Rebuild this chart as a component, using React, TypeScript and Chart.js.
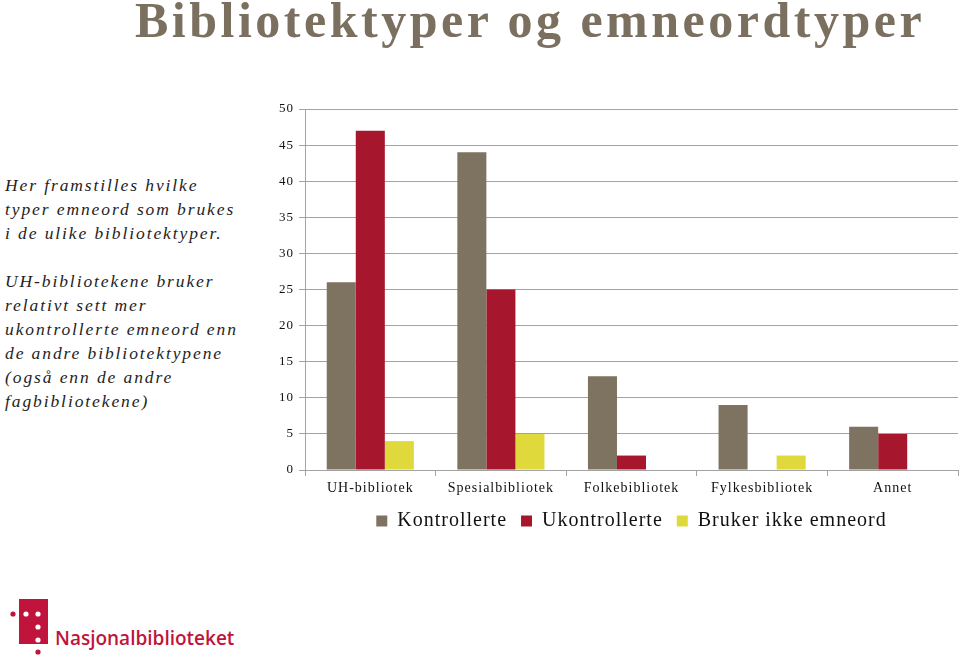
import React, { useEffect, useRef } from "react";
import { Chart, registerables } from "chart.js";

Chart.register(...registerables);

const categories = ["UH-bibliotek", "Spesialbibliotek", "Folkebibliotek", "Fylkesbibliotek", "Annet"];
const kontrollerte = [26, 44, 13, 9, 6];
const ukontrollerte = [47, 25, 2, 0, 5];
const brukerIkkeEmneord = [4, 5, 0, 2, 0];
const seriesNames = ["Kontrollerte", "Ukontrollerte", "Bruker ikke emneord"];
const seriesColors = ["#7e7261", "#a6162c", "#dfd93b"];
const yMin = 0;
const yMax = 50;
const yStep = 5;

const titleText = "Bibliotektyper og emneordtyper";
const paragraph1 = ["Her framstilles hvilke", "typer emneord som brukes", "i de ulike bibliotektyper."];
const paragraph2 = [
  "UH-bibliotekene bruker",
  "relativt sett mer",
  "ukontrollerte emneord enn",
  "de andre bibliotektypene",
  "(også enn de andre",
  "fagbibliotekene)",
];
const logoText = "Nasjonalbiblioteket";

const SERIF = "'Liberation Serif', 'Times New Roman', serif";

const letterSpacingPlugin = {
  id: "letterSpacing",
  beforeUpdate(chart: any) {
    chart.ctx.letterSpacing = "1px";
  },
  beforeDraw(chart: any) {
    chart.ctx.letterSpacing = "1px";
  },
};

function BarChart() {
  const ref = useRef<HTMLCanvasElement | null>(null);
  useEffect(() => {
    if (!ref.current) return;
    const seriesData = [kontrollerte, ukontrollerte, brukerIkkeEmneord];
    const chart = new Chart(ref.current, {
      type: "bar",
      data: {
        labels: categories,
        datasets: seriesNames.map((name, i) => ({
          label: name,
          data: seriesData[i],
          backgroundColor: seriesColors[i],
          borderWidth: 0,
          barPercentage: 1,
          categoryPercentage: 0.667,
        })),
      },
      plugins: [letterSpacingPlugin],
      options: {
        animation: false,
        responsive: false,
        maintainAspectRatio: false,
        layout: { padding: { top: 14, right: 2, left: 0, bottom: 0 } },
        plugins: {
          tooltip: { enabled: false },
          legend: {
            position: "bottom",
            fullSize: false,
            labels: {
              boxWidth: 11,
              boxHeight: 11,
              padding: 14,
              color: "#111",
              font: { family: SERIF, size: 20 },
            },
          },
        },
        scales: {
          x: {
            grid: { offset: true, drawOnChartArea: false, tickLength: 6, color: "#a3a3a3" },
            border: { color: "#a3a3a3" },
            ticks: { color: "#111", font: { family: SERIF, size: 14 }, padding: 4, maxRotation: 0 },
            afterFit: (s: any) => {
              s.height = 27;
            },
          },
          y: {
            min: yMin,
            max: yMax,
            ticks: { stepSize: yStep, color: "#111", font: { family: SERIF, size: 13 }, padding: 5 },
            grid: { color: "#a3a3a3", tickLength: 6 },
            border: { color: "#a3a3a3" },
            afterFit: (s: any) => {
              s.width = 65;
            },
          },
        },
      },
    });
    return () => chart.destroy();
  }, []);
  return <canvas ref={ref} width={720} height={446} style={{ width: 720, height: 446 }} />;
}

function Logo() {
  const red = "#c0143c";
  return (
    <svg width={250} height={70} viewBox="0 0 250 70" style={{ position: "absolute", left: 0, top: 590 }}>
      <rect x={19} y={9} width={29} height={45} fill={red} />
      <circle cx={13} cy={24} r={2.6} fill={red} />
      <circle cx={26} cy={24} r={2.6} fill="#fff" />
      <circle cx={38} cy={24} r={2.6} fill="#fff" />
      <circle cx={38} cy={37} r={2.6} fill="#fff" />
      <circle cx={38} cy={50} r={2.6} fill="#fff" />
      <circle cx={38} cy={62} r={2.6} fill={red} />
      <text x={55} y={55} fill={red} fontFamily="'Open Sans', 'Noto Sans', sans-serif" fontWeight={600} fontSize={19}>
        {logoText}
      </text>
    </svg>
  );
}

export default function App() {
  const textStyle: React.CSSProperties = {
    fontFamily: SERIF,
    fontStyle: "italic",
    fontSize: 17.5,
    letterSpacing: "1.9px",
    lineHeight: "24px",
    color: "#1e1e1e",
    whiteSpace: "nowrap",
  };
  return (
    <div style={{ position: "fixed", left: 0, top: 0, width: 960, height: 659, background: "#fff", overflow: "hidden" }}>
      <div
        style={{
          position: "absolute",
          left: 135,
          top: -8,
          fontFamily: SERIF,
          fontWeight: 700,
          fontSize: 50,
          lineHeight: "56px",
          color: "#7b705f",
          whiteSpace: "nowrap",
          letterSpacing: "3.5px",
        }}
      >
        {titleText}
      </div>
      <div style={{ position: "absolute", left: 5, top: 173, ...textStyle }}>
        {paragraph1.map((l, i) => (
          <div key={i}>{l}</div>
        ))}
        <div style={{ height: 24 }} />
        {paragraph2.map((l, i) => (
          <div key={i}>{l}</div>
        ))}
      </div>
      <div style={{ position: "absolute", left: 240, top: 95 }}>
        <BarChart />
      </div>
      <Logo />
    </div>
  );
}
